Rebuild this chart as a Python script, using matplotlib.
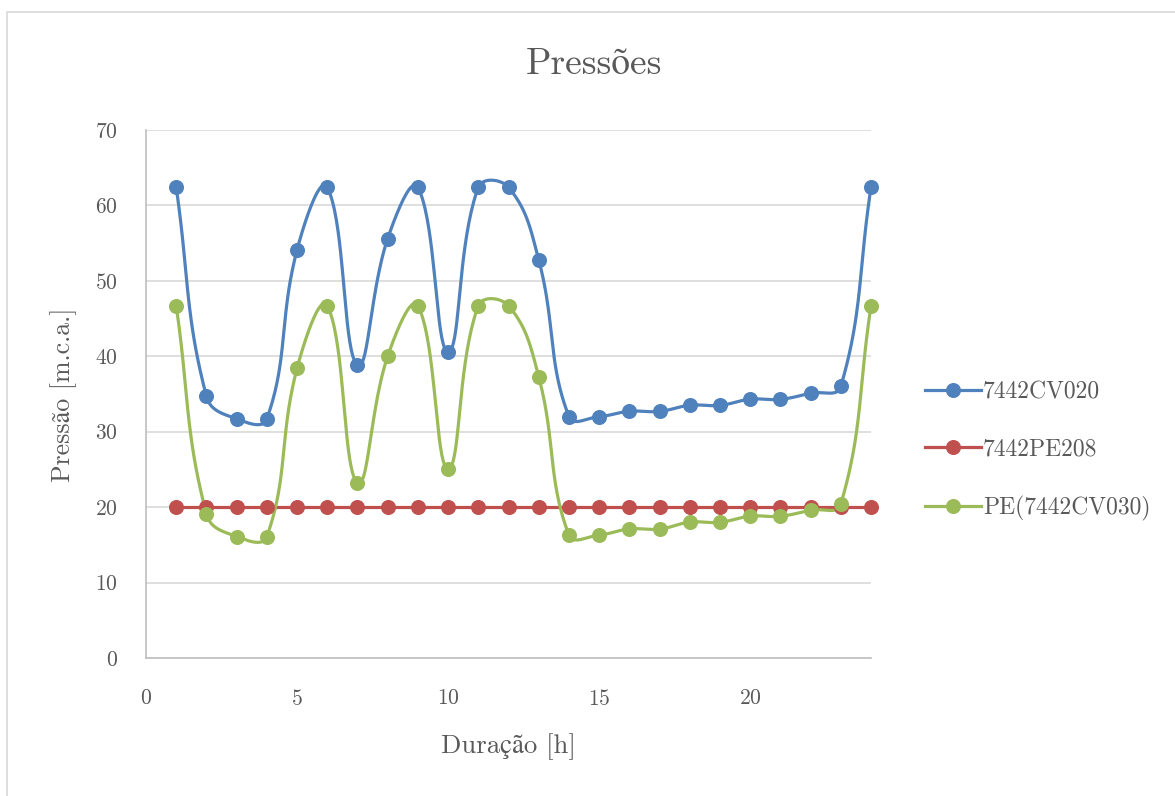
import numpy as np
import matplotlib
matplotlib.use("Agg")
import matplotlib.pyplot as plt
from matplotlib.patches import Rectangle

plt.rcParams['font.family'] = ['cmr10', 'STIXGeneral', 'DejaVu Serif']
plt.rcParams['axes.unicode_minus'] = False
plt.rcParams['axes.formatter.use_mathtext'] = True

hours = list(range(1, 25))
cv020 = [62.4, 34.7, 31.7, 31.7, 54.1, 62.4, 38.8, 55.6, 62.4, 40.6, 62.4, 62.4,
         52.8, 32.0, 32.0, 32.7, 32.7, 33.5, 33.5, 34.3, 34.3, 35.1, 36.0, 62.4]
pe208 = [20.0] * 24
pe_cv030 = [46.7, 19.1, 16.1, 16.1, 38.4, 46.7, 23.2, 40.0, 46.7, 25.1, 46.7, 46.7,
            37.3, 16.3, 16.3, 17.1, 17.1, 18.0, 18.0, 18.8, 18.8, 19.6, 20.4, 46.7]

series_names = ['7442CV020', '7442PE208', 'PE(7442CV030)']
series_colors = ['#4F81BD', '#C0504D', '#9BBB59']
text_color = '#595959'


def smooth_curve(ax, x, y, tension=0.42, steps=40):
    """Bezier smoothing through every point, built in screen space so the
    control handles scale with the length of each neighbouring segment."""
    pts = ax.transData.transform(np.column_stack([x, y]))
    n = len(pts)
    out = []
    t = np.linspace(0, 1, steps)[:, None]
    for i in range(n - 1):
        p1, p2 = pts[i], pts[i + 1]
        p0 = pts[i - 1] if i > 0 else p1
        p3 = pts[i + 2] if i + 2 < n else p2
        d01 = np.hypot(*(p1 - p0))
        d12 = np.hypot(*(p2 - p1))
        d23 = np.hypot(*(p3 - p2))
        c1 = p1 + (p2 - p0) * tension * d12 / max(d01 + d12, 1e-9)
        c2 = p2 - (p3 - p1) * tension * d12 / max(d12 + d23, 1e-9)
        seg = ((1 - t) ** 3) * p1 + 3 * ((1 - t) ** 2) * t * c1 \
            + 3 * (1 - t) * t ** 2 * c2 + t ** 3 * p2
        out.append(seg)
    curve = ax.transData.inverted().transform(np.vstack(out))
    return curve[:, 0], curve[:, 1]


fig = plt.figure(figsize=(11.75, 7.96), dpi=100)
ax = fig.add_axes([146 / 1175, 1 - 658 / 796, (871 - 146) / 1175, (658 - 130) / 796])

# chart frame
fig.patches.append(Rectangle((7 / 1175, -0.05), 1.2, 0.05 + (796 - 12) / 796,
                             transform=fig.transFigure, fill=False,
                             edgecolor='#D9D9D9', linewidth=1.2))

ax.set_xlim(0, 24)
ax.set_ylim(0, 70)

handles = []
for vals, name, col in zip([cv020, pe208, pe_cv030], series_names, series_colors):
    sx, sy = smooth_curve(ax, hours, vals)
    ax.plot(sx, sy, color=col, lw=2.3, solid_capstyle='round', zorder=3, clip_on=False)
    ax.plot(hours, vals, 'o', color=col, ms=9.8, zorder=4, clip_on=False)
    h, = ax.plot([], [], '-o', color=col, lw=2.3, ms=9.8, label=name)
    handles.append(h)

ax.set_xticks([0, 5, 10, 15, 20])
ax.set_yticks(range(0, 71, 10))
ax.grid(axis='y', color='#D9D9D9', lw=1.2)
ax.set_axisbelow(True)
for s in ['top', 'right']:
    ax.spines[s].set_visible(False)
for s in ['left', 'bottom']:
    ax.spines[s].set_color('#BFBFBF')
    ax.spines[s].set_linewidth(1.2)
ax.tick_params(length=0, labelsize=15.5, labelcolor=text_color)
ax.tick_params(axis='y', pad=20)
ax.tick_params(axis='x', pad=22)

fig.text(594 / 1175, 1 - 64 / 796, 'Pressões', ha='center', va='center',
         fontsize=27, color=text_color)
fig.text(508 / 1175, 1 - 747 / 796, 'Duração [h]', ha='center', va='center',
         fontsize=19.3, color=text_color)
fig.text(64 / 1175, 1 - 395 / 796, 'Pressão [m.c.a.]', ha='center', va='center',
         rotation=90, fontsize=18.6, color=text_color)

fig.legend(handles=handles, loc='center left',
           bbox_to_anchor=(904 / 1175, 1 - 451 / 796), frameon=False,
           fontsize=17, labelcolor=text_color, handlelength=2.35,
           handletextpad=0.1, labelspacing=1.5)

fig.savefig('out.png', dpi=100, facecolor='white')
